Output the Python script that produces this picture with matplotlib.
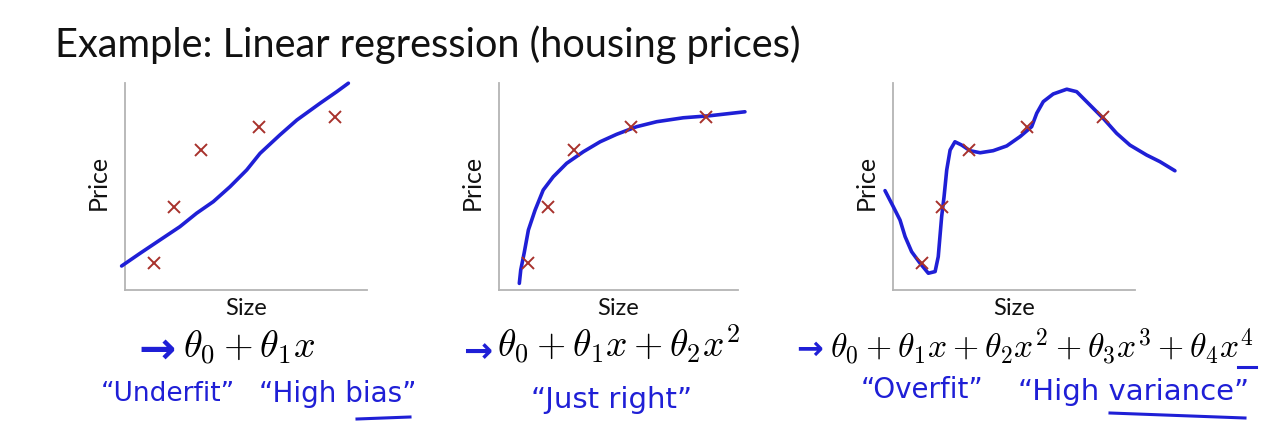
import matplotlib
matplotlib.use("Agg")
import matplotlib.pyplot as plt

# ---------------- data ----------------
size_pts = [12, 20.3, 31.3, 55.2, 86.8]
price_pts = [13, 40, 67.6, 78.7, 83.6]

# hand-drawn fit curves
fit1_x = [-1.4, 6.2, 14.5, 22.7, 29.6, 36.5, 43.4, 50.3, 55.8, 64.0, 71.0, 80.6, 87.5, 92.3]
fit1_y = [11.6, 17.7, 24.2, 30.6, 37.1, 42.7, 49.9, 58.0, 66.0, 74.9, 82.1, 90.2, 95.8, 99.9]

fit2_x = [8.5, 9.1, 10.5, 12.3, 15.1, 18.5, 22.7, 28.3, 35.3, 42.3, 49.2, 57.6, 66.0, 77.1, 88.3, 102.9]
fit2_y = [3.2, 9.7, 17.7, 29.0, 38.6, 48.3, 54.7, 61.2, 66.8, 71.6, 75.2, 78.9, 81.3, 83.2, 84.2, 86.1]

fit3_x = [-3.3, 0.1, 2.9, 5.0, 7.7, 11.2, 14.6, 17.4, 18.7, 19.4, 20.1, 21.1, 22.2, 23.6, 25.6,
          28.4, 31.8, 36.0, 41.4, 47.0, 52.5, 57.3, 59.4, 62.1, 66.2, 71.8, 75.9, 80.0, 86.9,
          92.4, 97.9, 104.8, 110.3, 116.5]
fit3_y = [48.0, 40.3, 33.8, 25.8, 18.5, 12.9, 8.1, 8.9, 16.1, 25.8, 35.4, 45.1, 58.0, 67.6, 71.6,
          70.0, 67.3, 66.3, 67.3, 69.6, 74.1, 78.9, 85.4, 91.0, 94.7, 97.0, 95.8, 91.0, 82.9,
          75.7, 70.0, 65.2, 62.0, 57.6]

title = "Example: Linear regression (housing prices)"
xlabel = "Size"
ylabel = "Price"
formulas = [r"$\theta_0 + \theta_1 x$",
            r"$\theta_0 + \theta_1 x + \theta_2 x^2$",
            r"$\theta_0 + \theta_1 x + \theta_2 x^2 + \theta_3 x^3 + \theta_4 x^4$"]

# ---------------- style ----------------
W, H = 1280, 441
fig = plt.figure(figsize=(W / 100, H / 100), dpi=100)
fig.patch.set_facecolor("white")

BLUE = "#1f1fd6"
RED = "#a8322c"
AXC = "#b4b4b4"
plt.rcParams["mathtext.fontset"] = "cm"


def fx(px):
    return px / W


def fy(py):
    return 1 - py / H


panels = [
    (125, 242, fit1_x, fit1_y),
    (499, 239, fit2_x, fit2_y),
    (893, 242, fit3_x, fit3_y),
]

for left, width, cx, cy in panels:
    ax = fig.add_axes([fx(left), fy(290), width / W, 207 / H])
    ax.set_xlim(0, 100)
    ax.set_ylim(0, 100)
    for s in ("top", "right"):
        ax.spines[s].set_visible(False)
    for s in ("left", "bottom"):
        ax.spines[s].set_color(AXC)
        ax.spines[s].set_linewidth(1.3)
    ax.set_xticks([])
    ax.set_yticks([])
    ax.set_facecolor("none")
    ax.plot(cx, cy, color=BLUE, lw=2.6, clip_on=False, solid_capstyle="round",
            solid_joinstyle="round", zorder=3)
    ax.plot(size_pts, price_pts, linestyle="none", marker="x", ms=9, mew=1.4,
            color=RED, clip_on=False, zorder=4)
    ax.text(-0.11, 0.52, ylabel, transform=ax.transAxes, rotation=90, ha="center",
            va="center", fontsize=18, family="Lato", color="#111111")
    ax.text(0.5, -0.09, xlabel, transform=ax.transAxes, ha="center", va="center",
            fontsize=17, family="Lato", color="#111111")

fig.text(fx(55), fy(57), title, fontsize=28.6, family="Lato", color="#111111",
         va="baseline", ha="left")

# formulas
fig.text(fx(183), fy(358), formulas[0], fontsize=27.5, va="baseline", ha="left", color="black")
fig.text(fx(497), fy(358), formulas[1], fontsize=27, va="baseline", ha="left", color="black")
fig.text(fx(830), fy(358), formulas[2], fontsize=24.2, va="baseline", ha="left", color="black")

# handwritten annotations
hand = dict(color=BLUE, family="DejaVu Sans", va="center", ha="center")
fig.text(fx(157), fy(350), "\u2192", fontsize=32, fontweight="bold", **hand)
fig.text(fx(478), fy(352), "\u2192", fontsize=25, fontweight="bold", **hand)
fig.text(fx(810), fy(350), "\u2192", fontsize=23, fontweight="bold", **hand)

fig.text(fx(168), fy(394), "\u201cUnderfit\u201d", fontsize=19, **hand)
fig.text(fx(338), fy(394), "\u201cHigh bias\u201d", fontsize=20, **hand)
fig.text(fx(612), fy(400), "\u201cJust right\u201d", fontsize=21, **hand)
fig.text(fx(922), fy(390), "\u201cOverfit\u201d", fontsize=20, **hand)
fig.text(fx(1134), fy(392), "\u201cHigh variance\u201d", fontsize=21, **hand)

# underlines (hand strokes)
fig.add_artist(plt.Line2D([fx(357), fx(410)], [fy(419), fy(417)], color=BLUE, lw=2.2))
fig.add_artist(plt.Line2D([fx(1110), fx(1245)], [fy(413), fy(418)], color=BLUE, lw=2.2))
fig.add_artist(plt.Line2D([fx(1238), fx(1256)], [fy(367), fy(367)], color=BLUE, lw=2.2))

fig.savefig("out.png", dpi=100, facecolor="white")
